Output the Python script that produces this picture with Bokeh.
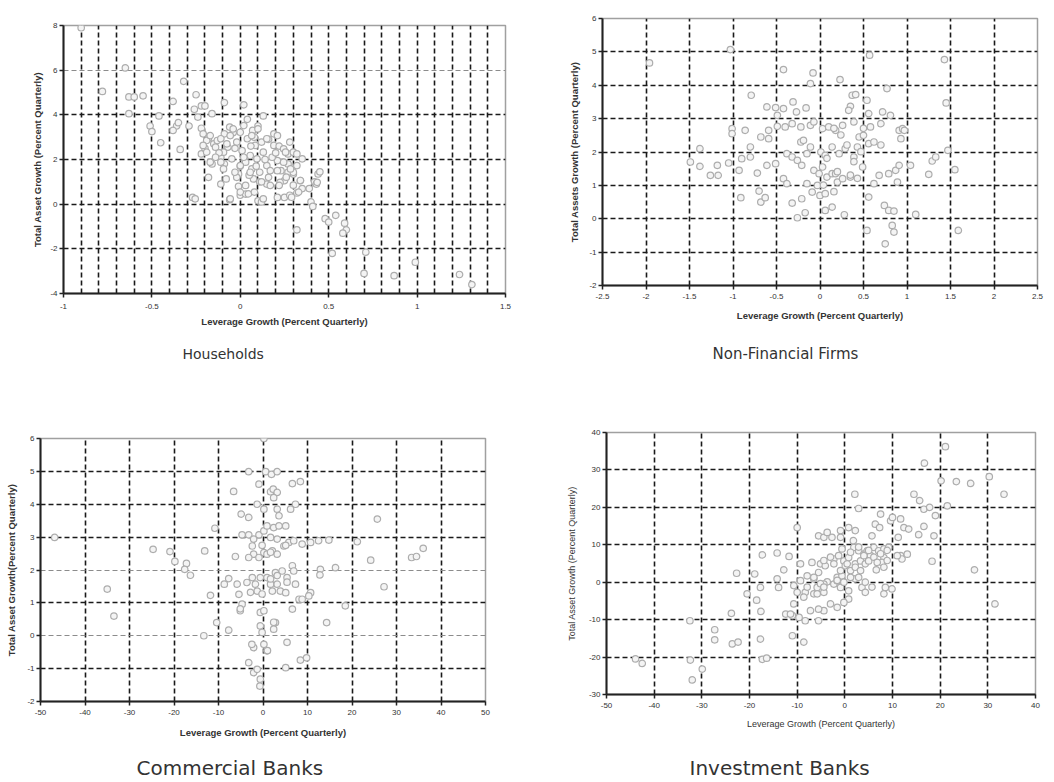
from bokeh.plotting import figure
from bokeh.layouts import column, row
from bokeh.models import FixedTicker, Grid, Title, CustomJSTickFormatter, Range1d
from bokeh.embed import file_html
from bokeh.resources import INLINE

# ---------------- Households ----------------
hh_x = [
    -0.90, -0.65, -0.78, -0.63, -0.60, -0.55, -0.63, -0.32, -0.25, -0.38,
    -0.46, -0.51, -0.50, -0.45, -0.36, -0.35, -0.38, -0.29, -0.34, -0.22,
    -0.20, -0.26, -0.16, -0.24, -0.09, 0.02, 0.04, 0.10, 0.13, -0.22,
    -0.21, -0.18, -0.15, -0.22, -0.20, -0.16, -0.18, -0.27, -0.11, -0.06,
    -0.01, -0.01, 0.00, 0.03, -0.11, -0.09, -0.07, -0.13, -0.09, -0.06,
    -0.04, 0.10, 0.12, 0.19, 0.21, 0.23, 0.25, 0.27, 0.27, 0.30,
    0.30, 0.32, 0.34, 0.35, 0.25, 0.28, 0.21, 0.42, 0.44, 0.45,
    0.43, 0.39, 0.40, 0.41, 0.32, 0.48, 0.50, 0.54, 0.59, 0.60,
    0.58, 0.52, 0.71, 0.70, 0.87, 0.99, 1.24, 1.31, -0.19, -0.17,
    -0.14, -0.11, -0.095, -0.076, -0.057, -0.048, -0.02, 0.00, 0.01, 0.03,
    0.04, 0.056, 0.065, 0.084, 0.094, 0.11, 0.12, 0.13, 0.15, 0.16,
    0.18, 0.19, 0.21, 0.225, 0.245, 0.27, 0.30, 0.32, 0.33, 0.29,
    0.13, 0.046, 0.00, -0.057, -0.17, -0.255, -0.095, -0.02, 0.03, 0.075,
    0.06, 0.08, 0.14, 0.02, 0.17, 0.09, -0.03, 0.05, 0.11, 0.20,
    0.16, -0.12, 0.07, 0.00, 0.15, 0.22,
    -0.04, 0.02, 0.065, 0.10, 0.15, 0.21, 0.245, 0.28, 0.32, 0.35,
    0.30, 0.26, 0.22, 0.17, 0.12, 0.08, 0.056, 0.00, -0.03, -0.08,
    -0.11, -0.14, -0.19, -0.21, 0.256, 0.284, 0.34, 0.435]
hh_y = [
    7.90, 6.10, 5.05, 4.80, 4.80, 4.85, 4.05, 5.50, 4.90, 4.60,
    3.95, 3.50, 3.25, 2.75, 3.50, 3.65, 3.30, 3.50, 2.45, 4.40,
    4.40, 4.25, 4.05, 3.90, 4.55, 4.45, 3.80, 3.50, 3.95, 3.40,
    3.15, 2.95, 2.70, 2.25, 2.50, 1.80, 1.20, 0.30, 0.90, 0.20,
    1.35, 0.80, 0.40, 0.45, 2.10, 1.80, 2.55, 2.85, 3.15, 3.45,
    3.20, 0.15, 0.10, 3.15, 1.95, 1.50, 1.05, 2.25, 1.80, 1.35,
    0.85, 0.50, 1.05, 0.70, 0.30, 0.40, 0.30, 1.00, 1.35, 1.45,
    0.90, 0.70, 0.10, -0.10, -1.15, -0.65, -0.80, -0.50, -0.85, -1.15,
    -1.30, -2.20, -2.15, -3.10, -3.20, -2.60, -3.15, -3.60, 2.85, 3.07,
    2.55, 2.93, 2.33, 2.70, 3.07, 2.03, 2.78, 3.22, 2.40, 1.88,
    2.93, 2.18, 1.58, 2.63, 2.03, 1.43, 2.78, 2.33, 1.73, 1.20,
    2.10, 2.63, 1.50, 0.98, 1.88, 1.43, 2.33, 1.73, 0.54, 0.31,
    0.24, 0.46, 0.54, 0.24, 1.88, 0.24, 1.58, 1.20, 0.84, 1.13,
    2.60, 3.00, 2.00, 2.10, 1.50, 1.70, 2.50, 1.30, 1.00, 2.30,
    2.90, 2.30, 3.30, 1.70, 0.90, 2.60,
    3.37, 3.52, 3.07, 3.37, 2.93, 3.07, 2.48, 2.78, 2.25, 2.03,
    1.43, 1.21, 0.84, 0.84, 1.00, 0.54, 1.43, 1.73, 1.43, 1.13,
    1.88, 2.10, 2.33, 2.63, 2.33, 1.58, 1.06, 0.98]
hh_xticks = [-1, -0.5, 0, 0.5, 1, 1.5]
hh_yticks = [-4, -2, 0, 2, 4, 6, 8]
hh_xgrid = [-0.9, -0.8, -0.7, -0.6, -0.5, -0.4, -0.3, -0.2, -0.1, 0.0, 0.1, 0.2,
            0.3, 0.4, 0.5, 0.6, 0.7, 0.8, 0.9, 1.0, 1.1, 1.2, 1.3, 1.4]
hh_ygrid = [-2, 0, 2, 4]
hh_ygrid_light = [6]

# ---------------- Non-Financial Firms ----------------
nf_x = [
    -1.03, -1.96, -0.42, -0.08, -0.11, 0.23, 0.57, 1.43, 1.45, 0.77,
    -0.79, -0.61, -0.51, -0.42, -0.31, -0.27, -0.16, -0.49, -0.49, 0.37,
    0.41, 0.35, 0.33, 0.54, 0.56, 0.72, 0.81, -0.86, -1.01, -1.01,
    -0.40, -0.32, -0.22, -0.11, -0.07, 0.03, 0.10, 0.18, 0.26, 0.39,
    0.58, 0.70, 0.91, 0.95, -0.80, -0.59, -0.59, -0.68, -1.38, -1.49,
    -1.38, -1.26, -1.17, -1.18, -1.05, -0.93, -0.91, -0.90, -0.80, -0.72,
    -0.70, -0.68, -0.63, -0.61, -0.51, -0.42, -0.38, -0.38, -0.32, -0.26,
    -0.21, -0.22, -0.19, -0.15, -0.11, -0.32, -0.21, -0.17, -0.26, -0.15,
    -0.09, -0.03, 0.00, 0.06, 0.03, -0.07, -0.01, 0.08, 0.14, 0.20,
    0.01, 0.06, 0.14, 0.22, 0.29, 0.06, 0.14, 0.28, 0.18, 0.26,
    0.35, 0.39, 0.43, 0.45, 0.50, 0.49, 0.56, 0.62, 0.56, 0.62,
    0.54, 0.75, 0.74, 0.79, 0.85, 0.83, 0.85, 0.68, 0.79, 0.87,
    0.91, 0.89, 1.04, 1.10, 1.25, 1.29, 1.33, 1.47, 1.55, 1.59,
    0.93, 0.97,
    0.16, 0.24, 0.31, 0.08, 0.20, 0.35, 0.43, 0.47, 0.39, 0.04,
    0.16, 0.50, 0.70]
nf_y = [
    5.07, 4.67, 4.47, 4.37, 4.05, 4.17, 4.90, 4.77, 3.47, 3.90,
    3.70, 3.35, 3.33, 3.30, 3.50, 3.20, 3.32, 3.10, 2.77, 3.70,
    3.72, 3.37, 3.25, 3.55, 3.15, 3.20, 3.10, 2.65, 2.70, 2.55,
    2.75, 2.85, 2.75, 2.80, 2.90, 2.70, 2.75, 2.65, 2.80, 2.90,
    2.75, 2.85, 2.65, 2.70, 2.15, 2.65, 2.40, 2.45, 2.10, 1.70,
    1.57, 1.30, 1.30, 1.60, 1.67, 1.45, 0.63, 1.80, 1.85, 1.37,
    0.83, 0.50, 0.63, 1.60, 1.65, 1.20, 1.05, 1.95, 1.85, 1.75,
    1.60, 2.30, 2.35, 1.95, 2.15, 0.47, 0.60, 0.18, 0.03, 1.05,
    0.80, 1.00, 0.70, 0.75, 1.55, 1.45, 1.35, 1.25, 1.35, 1.10,
    2.00, 1.90, 2.15, 1.95, 2.10, 0.25, 0.35, 0.12, 1.35, 1.20,
    1.25, 1.85, 2.15, 2.45, 2.50, 1.55, 0.65, 1.05, 2.25, 2.30,
    -0.35, -0.75, 0.40, 0.25, 0.23, -0.20, -0.40, 1.30, 1.35, 1.45,
    1.60, 1.10, 1.60, 0.13, 1.33, 1.73, 1.85, 2.05, 1.47, -0.35,
    2.40, 2.65,
    2.71, 2.51, 2.21, 1.81, 1.41, 1.31, 1.21, 2.01, 1.71, 1.01,
    0.81, 2.71, 2.21]
nf_xticks = [-2.5, -2, -1.5, -1, -0.5, 0, 0.5, 1, 1.5, 2, 2.5]
nf_yticks = [-2, -1, 0, 1, 2, 3, 4, 5, 6]
nf_xgrid = [-2, -1.5, -1, -0.5, 0, 0.5, 1, 1.5, 2]
nf_ygrid = [-1, 0, 1, 2, 3, 4, 5]

# ---------------- Commercial Banks ----------------
cb_x = [
    -46.8, -35.0, -33.5, -24.7, -20.9, -19.8, -17.2, -17.6, -16.3, -13.1,
    -13.3, -11.8, -10.8, -10.4, -7.7, -8.7, -7.7, -6.6, -6.2, -4.9,
    -3.2, -5.8, -5.4, -5.1, -4.7, -3.2, -0.9, 0.6, 1.9, 3.2,
    0.2, 1.7, 2.3, 3.2, 2.4, -1.3, 0.2, 3.2, 3.6, 6.6,
    8.4, 7.3, 6.2, -4.7, -3.2, -2.1, -0.9, 0.2, 0.9, 2.4,
    3.6, 5.1, 1.7, 3.2, 4.7, 5.8, 6.9, 8.8, 10.7, 12.5,
    14.8, 21.2, 25.7, 24.2, 27.2, 33.4, 34.5, 36.0, 16.3, 12.9,
    12.8, 10.7, 10.3, 8.1, 14.3, 18.5, -2.4, -2.1, -3.2, -0.9,
    0.2, 0.9, 2.1, 3.2, -3.6, -2.4, -1.7, -1.3, -0.6, 0.9,
    1.7, 2.1, 3.2, 3.9, 5.1, 2.8, 4.3, 5.4, 6.6, 6.9,
    7.3, 6.6, 8.8, -0.6, 0.2, -0.6, -0.2, 0.2, -2.1, -2.5,
    2.8, 2.4, 5.4, 0.9, -3.2, -2.1, -1.3, -0.6, -0.7, 5.1,
    8.4, 9.8,
    -0.2, 1.7, 5.1, 1.7, 3.2, 5.4, -2.8, -0.2, -5.1, 2.4, 1.0]
cb_y = [
    2.99, 1.42, 0.60, 2.63, 2.56, 2.26, 2.20, 2.02, 1.84, 2.58,
    0.00, 1.23, 3.27, 0.40, 0.17, 1.57, 1.74, 4.39, 2.41, 3.70,
    3.60, 1.57, 1.26, 0.76, 0.96, 4.99, 4.61, 4.99, 4.91, 4.99,
    6.00, 4.38, 4.46, 4.36, 4.20, 4.00, 3.85, 3.85, 3.65, 4.63,
    4.69, 4.00, 3.85, 3.07, 3.07, 2.94, 3.07, 3.19, 3.34, 3.29,
    3.34, 3.34, 2.99, 2.94, 2.73, 2.84, 2.89, 2.79, 2.84, 2.89,
    2.91, 2.86, 3.55, 2.30, 1.49, 2.38, 2.41, 2.66, 2.07, 2.02,
    1.85, 1.31, 1.21, 1.11, 0.40, 0.91, 2.73, 2.48, 2.38, 2.38,
    2.53, 2.48, 2.58, 2.48, 1.62, 1.77, 1.57, 1.36, 1.77, 1.77,
    1.57, 1.36, 1.57, 1.36, 1.31, 1.92, 1.97, 1.77, 2.13, 1.97,
    1.57, 0.81, 1.11, 0.71, 0.76, 0.30, 0.10, -0.26, -0.36, -0.26,
    0.40, 0.20, -0.20, -0.46, -0.82, -1.12, -1.02, -1.32, -1.53, -0.97,
    -0.74, -0.67,
    2.75, 2.54, 2.75, 1.73, 1.83, 1.63, 1.32, 1.27, 0.82, 0.41, -0.45]
cb_xticks = [-50, -40, -30, -20, -10, 0, 10, 20, 30, 40, 50]
cb_yticks = [-2, -1, 0, 1, 2, 3, 4, 5, 6]
cb_xgrid = [-40, -30, -20, -10, 0, 10, 20, 30, 40]
cb_ygrid = [-1, 1, 3, 4, 5]
cb_ygrid_light = [0, 2]

# ---------------- Investment Banks ----------------
ib_x = [
    21.1, 16.7, 20.2, 23.4, 26.4, 30.3, 33.4, 2.1, 2.9, 14.5,
    15.7, 16.6, 17.8, 19.0, 21.5, 16.6, 15.5, 18.7, 9.6, 10.0,
    11.7, 12.4, 13.4, 7.5, 6.4, 7.3, 5.7, 11.2, 18.3, 27.2,
    31.5, 11.7, 13.1, 12.0, 8.2, 7.8, 6.6, -5.5, -4.4, -2.7,
    -3.7, -10.0, -14.2, -17.3, -11.7, -0.9, 0.8, -22.7, -18.9, -12.8,
    -14.2, -13.9, -20.5, -18.5, -17.7, -17.6, -23.8, -32.5, -27.3, -27.3,
    -23.6, -22.4, -17.7, -17.3, -16.4, -11.0, -8.6, -43.9, -42.5, -32.4,
    -32.0, -29.9, -12.4, -11.0, -9.6, -8.3, -5.5, -4.4, -1.6, -8.3,
    -6.5, -4.4, -10.0, -10.7, -9.3, -7.9, -6.5, -5.5, -9.3, -6.9,
    -5.1, -4.1, -3.7, -2.3, -1.6, -0.9, -2.3, -1.3, -0.2, 0.8,
    0.1, 1.2, 1.9, 2.9, 4.0, 4.7, 5.4, 6.1, 2.2, 3.3,
    4.3, 5.0, 7.1, 8.2, 9.2, 2.2, 2.9, 3.6, 4.3, 0.8,
    0.8, 8.5, 8.2, -1.6, -0.6, -4.4, -5.8,
    -0.9, 2.2, 1.8, -0.6, 1.2, 2.9, 4.0, 5.0, 6.1, 6.8,
    7.5, 8.9, 8.9, 8.2, 11.0, 0.5, 2.2, 3.3, -0.9, -2.3,
    -3.0, -4.4, 1.2, -0.2, -1.6, 4.3, 5.7, 9.9, -5.1, -6.5,
    -7.9, -8.6, -5.8, -4.4, -10.7, -11.4, -7.2, -5.5, -3.0, -0.2]
ib_y = [
    36.2, 31.8, 27.1, 26.9, 26.4, 28.2, 23.5, 23.5, 19.7, 23.5,
    21.8, 19.5, 20.0, 17.8, 20.4, 14.9, 12.7, 12.4, 16.4, 17.3,
    16.9, 14.6, 14.2, 18.2, 15.5, 14.6, 12.4, 12.0, 5.6, 3.3,
    -5.8, 7.1, 7.5, 6.2, 6.6, 5.3, 3.3, 12.4, 12.0, 12.0,
    13.3, 14.6, 7.8, 7.3, 6.9, 13.8, 14.6, 2.4, 2.2, 3.3,
    0.9, -1.4, -3.1, -4.8, -1.4, -7.8, -8.3, -10.3, -12.7, -15.4,
    -16.5, -16.0, -15.2, -20.6, -20.3, -14.3, -16.0, -20.5, -21.7, -20.8,
    -26.1, -23.2, -8.5, -8.9, -9.4, -10.3, -10.3, -7.6, -6.7, -2.7,
    -3.1, -2.7, -2.7, -0.9, 0.4, 1.7, 0.9, 2.6, 4.9, 5.3,
    4.9, 4.4, 0.1, -0.5, 0.4, -1.4, 6.2, 7.1, 5.7, 6.6,
    4.4, 3.1, 9.3, 8.4, 7.5, 8.4, 7.1, 9.3, 4.9, 5.7,
    4.9, 5.7, 8.4, 8.9, 9.3, 0.9, 1.3, -1.4, -2.7, -2.3,
    -4.5, -1.4, -3.1, 1.3, 1.7, -0.5, -1.4,
    12.0, 13.8, 11.1, 8.9, 8.0, 9.4, 7.1, 8.5, 6.7, 5.3,
    7.6, 8.5, 5.8, 4.0, 7.1, 4.9, 4.0, 3.1, 3.1, 4.9,
    6.7, 5.8, 1.3, 0.0, 0.5, 0.0, -1.3, -1.8, -0.4, 1.3,
    -1.3, -4.0, -3.1, -1.3, -5.8, -8.5, -7.6, -7.2, -5.8, -5.4]
ib_xticks = [-50, -40, -30, -20, -10, 0, 10, 20, 30, 40]
ib_yticks = [-30, -20, -10, 0, 10, 20, 30, 40]
ib_xgrid = [-40, -30, -20, -10, 0, 10, 20, 30]
ib_ygrid = [-20, -10, 0, 10, 20, 30]

XLABEL = "Leverage Growth (Percent Quarterly)"


def panel(xs, ys, xr, yr, xticks, yticks, xgrid, ygrid, ygrid_light,
          ylabel, caption, fw, fh, bl, br, bt, bb,
          xtick_so, xlab_so, ylab_so, cap_off, gap, cap_so, cap_size,
          lab_style, lab_size):
    p = figure(frame_width=fw, frame_height=fh,
               x_range=Range1d(*xr), y_range=Range1d(*yr),
               output_backend="svg", toolbar_location=None,
               min_border_left=bl, min_border_right=br,
               min_border_top=bt, min_border_bottom=bb,
               background_fill_color="white", border_fill_color="white")
    p.outline_line_color = "#a0a0a0"
    p.outline_line_width = 1.5

    p.xaxis.ticker = FixedTicker(ticks=xticks)
    p.yaxis.ticker = FixedTicker(ticks=yticks)
    p.xaxis.formatter = CustomJSTickFormatter(code="return String(tick);")
    p.yaxis.formatter = CustomJSTickFormatter(code="return String(tick);")
    p.xaxis.axis_label = XLABEL
    p.yaxis.axis_label = ylabel
    for ax in (p.xaxis[0], p.yaxis[0]):
        ax.axis_line_color = "#222222"
        ax.axis_line_width = 2
        ax.major_tick_line_color = "#222222"
        ax.major_tick_line_width = 1.5
        ax.major_tick_out = 4
        ax.major_tick_in = 0
        ax.minor_tick_line_color = None
        ax.major_label_text_font = "Liberation Sans"
        ax.major_label_text_font_size = "8px"
        ax.major_label_text_color = "#333333"
        ax.axis_label_text_font = "Liberation Sans"
        ax.axis_label_text_font_size = lab_size
        ax.axis_label_text_font_style = lab_style
        ax.axis_label_text_color = "#333333"
    p.xaxis.major_label_standoff = xtick_so
    p.yaxis.major_label_standoff = 2
    p.xaxis.axis_label_standoff = xlab_so
    p.yaxis.axis_label_standoff = ylab_so

    p.xgrid.ticker = FixedTicker(ticks=xgrid)
    p.ygrid.ticker = FixedTicker(ticks=ygrid)
    for g in (p.xgrid[0], p.ygrid[0]):
        g.grid_line_color = "#1a1a1a"
        g.grid_line_width = 1.6
        g.grid_line_dash = "5 3"
    if ygrid_light:
        g2 = Grid(dimension=1, ticker=FixedTicker(ticks=ygrid_light),
                  grid_line_color="#8c8c8c", grid_line_width=1.2,
                  grid_line_dash="5 3")
        p.add_layout(g2)

    p.scatter(xs, ys, marker="circle", size=6.5, line_color="#adadad",
              fill_color="#f4f4f4", line_width=1.2)

    if gap:
        spacer = Title(text=" ", text_font_size="1px", standoff=gap)
        p.add_layout(spacer, "below")
    cap = Title(text=caption, align="left", offset=cap_off, standoff=cap_so,
                vertical_align="bottom",
                text_font="DejaVu Sans", text_font_size=cap_size,
                text_font_style="normal", text_color="#333333")
    p.add_layout(cap, "below")
    return p


p1 = panel(hh_x, hh_y, (-1, 1.5), (-4, 8), hh_xticks, hh_yticks, hh_xgrid,
           hh_ygrid, hh_ygrid_light, "Total Asset Growth (Percent Quarterly)",
           "Households", 442, 268, 63, 15, 25, 97,
           6, 4, 4, 119, 0, 28, "14px", "bold", "9.5px")
p2 = panel(nf_x, nf_y, (-2.5, 2.5), (-2, 6), nf_xticks, nf_yticks, nf_xgrid,
           nf_ygrid, None, "Total Assets Growth (Percent Quarterly)",
           "Non-Financial Firms", 435, 267, 82, 12, 18, 105,
           4, 8, 6, 110, 0, 38, "15px", "bold", "9.5px")
p3 = panel(cb_x, cb_y, (-50, 50), (-2, 6), cb_xticks, cb_yticks, cb_xgrid,
           cb_ygrid, cb_ygrid_light, "Total Asset Growth(Percent Quarterly)",
           "Commercial Banks", 445, 263, 40, 35, 48, 80,
           4, 9, 7, 96, 10, 0, "20px", "bold", "9.5px")
p4 = panel(ib_x, ib_y, (-50, 40), (-30, 40), ib_xticks, ib_yticks, ib_xgrid,
           ib_ygrid, None, "Total Asset Growth (Percent Quarterly)",
           "Investment Banks", 429, 262, 86, 12, 42, 87,
           4, 8, 9, 83, 19, 0, "20px", "normal", "9px")

layout = column(row(column(p1), column(p2)), row(column(p3), column(p4)))
open("out.html", "w").write(file_html(layout, INLINE))
